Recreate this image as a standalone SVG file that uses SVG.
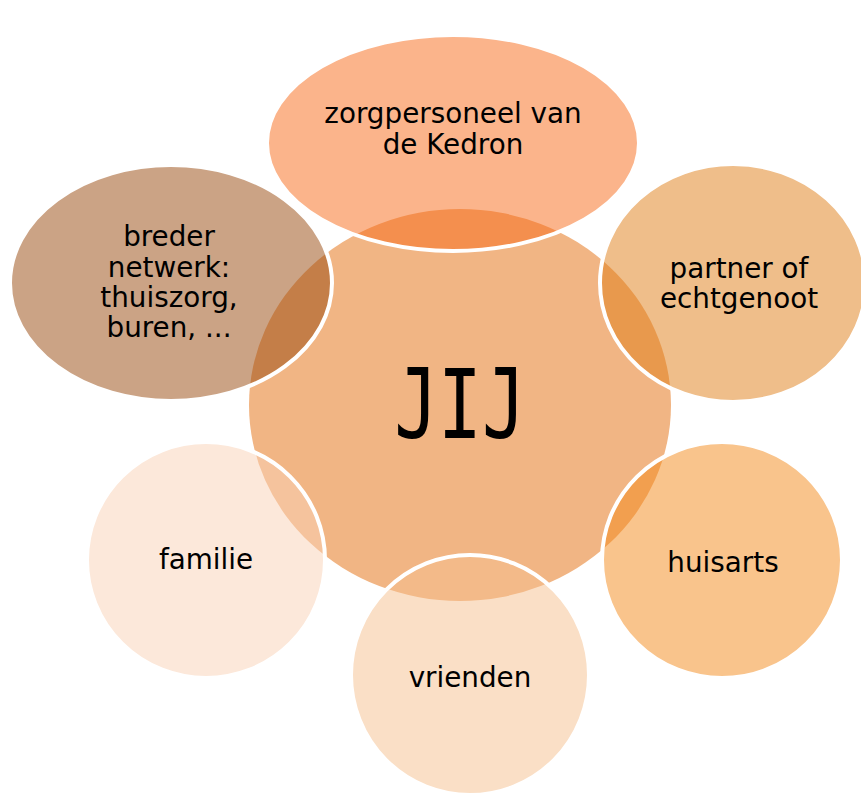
<svg xmlns="http://www.w3.org/2000/svg" width="861" height="794" viewBox="0 0 861 794">
<style>
.sat{fill-opacity:0.5;stroke:#FFFFFF;stroke-width:4}
.lbl{font-family:"DejaVu Sans","Verdana",sans-serif;font-size:27.8px;fill:#000000;text-anchor:middle}
.big{font-family:"DejaVu Sans Mono",monospace;font-size:97px;fill:#000000;text-anchor:middle}
</style>
<rect width="861" height="794" fill="#FFFFFF"/>
<g id="center">
<ellipse cx="460" cy="405" rx="211" ry="196" fill="#F1B584"/>
<text class="big" transform="translate(460,438) scale(0.75,1)" x="0" y="0">JIJ</text>
</g>
<g id="connectors"></g>
<g id="zorgpersoneel">
<ellipse class="sat" cx="453" cy="143" rx="186" ry="108" fill="#F76917"/>
<text class="lbl" x="453" y="123">zorgpersoneel van</text>
<text class="lbl" x="453" y="154">de Kedron</text>
</g>
<g id="partner">
<ellipse class="sat" cx="733" cy="283" rx="133" ry="119" fill="#DF7D15"/>
<text class="lbl" x="739" y="278">partner of</text>
<text class="lbl" x="739" y="308">echtgenoot</text>
</g>
<g id="huisarts">
<ellipse class="sat" cx="722" cy="560" rx="120" ry="118" fill="#F38919"/>
<text class="lbl" x="723" y="572">huisarts</text>
</g>
<g id="vrienden">
<ellipse class="sat" cx="470" cy="675" rx="119" ry="120" fill="#F5BF8D"/>
<text class="lbl" x="470" y="687">vrienden</text>
</g>
<g id="familie">
<ellipse class="sat" cx="206" cy="560" rx="119" ry="118" fill="#F9D1B5"/>
<text class="lbl" x="206" y="569">familie</text>
</g>
<g id="breder">
<ellipse class="sat" cx="171" cy="283" rx="161" ry="118" fill="#97470B"/>
<text class="lbl" x="169" y="246">breder</text>
<text class="lbl" x="169" y="277">netwerk:</text>
<text class="lbl" x="169" y="307">thuiszorg,</text>
<text class="lbl" x="169" y="337">buren, ...</text>
</g>
</svg>
